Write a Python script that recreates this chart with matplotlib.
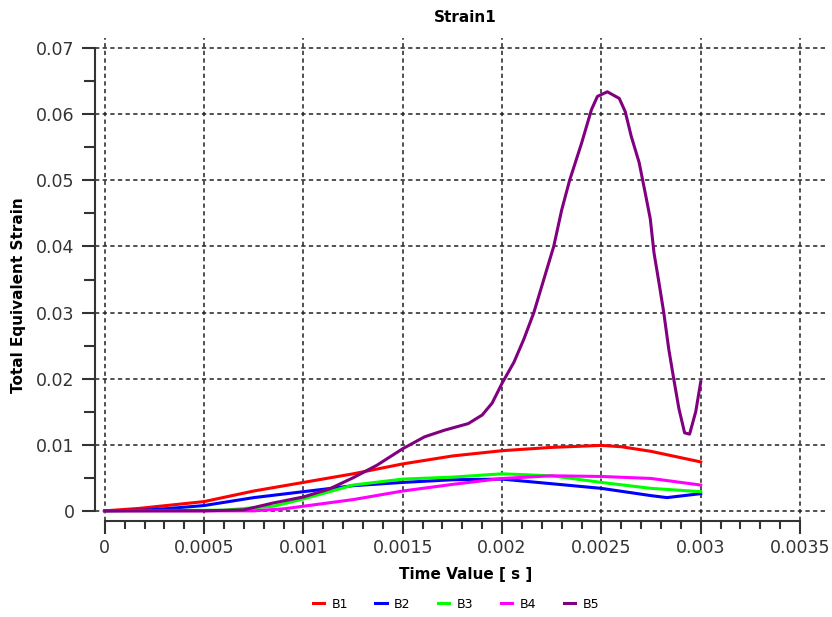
import matplotlib
matplotlib.use("Agg")
import matplotlib.pyplot as plt
import numpy as np

# values
b1_t = [0, 0.00017, 0.0005, 0.00075, 0.001, 0.00125, 0.0015, 0.00175, 0.002,
        0.00225, 0.0025, 0.0026, 0.00275, 0.003]
b1_s = [0, 0.00036, 0.0014, 0.003, 0.0043, 0.0056, 0.0071, 0.0083, 0.0091,
        0.0096, 0.0099, 0.0097, 0.009, 0.0074]

b2_t = [0, 0.0002, 0.0003, 0.0005, 0.00075, 0.001, 0.00125, 0.0015, 0.00175,
        0.002, 0.00225, 0.0025, 0.00275, 0.00283, 0.003]
b2_s = [0, 0.0001, 0.0003, 0.0008, 0.002, 0.0029, 0.0038, 0.0043, 0.0047,
        0.0048, 0.0041, 0.0034, 0.0023, 0.002, 0.0026]

b3_t = [0, 0.0006, 0.00085, 0.001, 0.00125, 0.0015, 0.00175, 0.002, 0.00225,
        0.0025, 0.00275, 0.003]
b3_s = [0, 0.0001, 0.0007, 0.0018, 0.0039, 0.0048, 0.0051, 0.0056, 0.0053,
        0.0043, 0.0034, 0.0029]

b4_t = [0, 0.00075, 0.0009, 0.001, 0.00125, 0.0015, 0.00175, 0.002, 0.00225,
        0.0025, 0.00275, 0.003]
b4_s = [0, 0, 0.0003, 0.0007, 0.0017, 0.003, 0.004, 0.0049, 0.0053,
        0.0052, 0.0049, 0.0039]

b5_t = [0, 0.0005, 0.0007, 0.00085, 0.001, 0.00113, 0.00125, 0.00137, 0.0015,
        0.00161, 0.00171, 0.00183, 0.0019, 0.00195, 0.002, 0.00206, 0.00211,
        0.00216, 0.00221, 0.00226, 0.0023, 0.00234, 0.0024, 0.00245, 0.00248,
        0.00253, 0.00259, 0.00262, 0.00265, 0.00269, 0.00272, 0.002746,
        0.002765, 0.00279, 0.002814, 0.002839, 0.002864, 0.00289, 0.002919,
        0.002944, 0.002975, 0.003]
b5_s = [0, 0, 0.00015, 0.0012, 0.0021, 0.0033, 0.005, 0.0069, 0.0094,
        0.0112, 0.0122, 0.0132, 0.0145, 0.0163, 0.0193, 0.0225, 0.026,
        0.030, 0.035, 0.040, 0.0455, 0.050, 0.0556, 0.0607, 0.0627,
        0.0634, 0.0624, 0.0604, 0.0567, 0.0527, 0.0482, 0.0442,
        0.039, 0.0345, 0.030, 0.0245, 0.020, 0.0155, 0.0118,
        0.0116, 0.015, 0.0195]

series = [("B1", b1_t, b1_s, "#ff0000"),
          ("B2", b2_t, b2_s, "#0000ff"),
          ("B3", b3_t, b3_s, "#00ff00"),
          ("B4", b4_t, b4_s, "#ff00ff"),
          ("B5", b5_t, b5_s, "#800080")]

x_ticks = [0, 0.0005, 0.001, 0.0015, 0.002, 0.0025, 0.003, 0.0035]
x_labels = ["0", "0.0005", "0.001", "0.0015", "0.002", "0.0025", "0.003", "0.0035"]
y_ticks = [0, 0.01, 0.02, 0.03, 0.04, 0.05, 0.06, 0.07]
y_labels = ["0", "0.01", "0.02", "0.03", "0.04", "0.05", "0.06", "0.07"]

fig = plt.figure(figsize=(8.32, 6.17), dpi=100)
ax = fig.add_axes([0.114, 0.156, 0.881, 0.782])

for name, t, s, c in series:
    ax.plot(t, s, color=c, lw=2.2, label=name)

ax.set_xlim(-0.00005, 0.00364)
ax.set_ylim(-0.0015, 0.0715)

ax.set_xticks(x_ticks)
ax.set_xticklabels(x_labels)
ax.set_yticks(y_ticks)
ax.set_yticklabels(y_labels)
# minor ticks only inside the spine range
ax.set_xticks([v for v in np.arange(1, 35) * 0.0001 if round(v * 10000) % 5], minor=True)
ax.set_yticks(np.arange(0.005, 0.07, 0.01), minor=True)

ax.grid(True, which="major", color="#222222", linestyle=(0, (2.8, 2.2)), lw=1.1)

for side in ["top", "right"]:
    ax.spines[side].set_visible(False)
ax.spines["left"].set_bounds(0, 0.07)
ax.spines["bottom"].set_bounds(0, 0.0035)
for side in ["left", "bottom"]:
    ax.spines[side].set_linewidth(1.5)
    ax.spines[side].set_color("#333333")

ax.tick_params(axis="y", which="major", length=9.5, width=1.5, pad=5,
               labelsize=12.5, colors="#333333")
ax.tick_params(axis="y", which="minor", length=8, width=1.5, colors="#333333")
ax.tick_params(axis="x", which="major", length=9.5, width=1.5, pad=4,
               labelsize=12.5, colors="#333333")
ax.tick_params(axis="x", which="minor", length=6, width=1.5, colors="#333333")

fig.text(0.559, 1 - 18 / 617, "Strain1", ha="center", va="center",
         fontsize=11, fontweight="bold")
fig.text(0.560, 1 - 575 / 617, "Time Value [ s ]", ha="center", va="center",
         fontsize=11, fontweight="bold")
fig.text(0.022, 1 - 295 / 617, "Total Equivalent Strain", ha="center", va="center",
         rotation=90, fontsize=11, fontweight="bold")

fig.legend(loc="center", bbox_to_anchor=(0.548, 1 - 604 / 617), ncol=5,
           frameon=False, fontsize=9, handlelength=0.9, handletextpad=0.6,
           columnspacing=2.2)

fig.savefig("out.png", dpi=100)
